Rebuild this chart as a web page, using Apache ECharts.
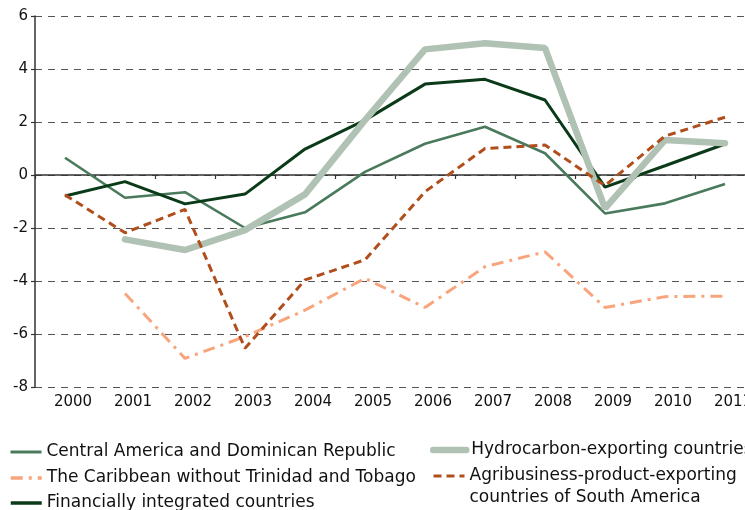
<!DOCTYPE html>
<html><head><meta charset="utf-8">
<script src="https://cdn.jsdelivr.net/npm/echarts@6/dist/echarts.min.js"></script>
<style>html,body{margin:0;padding:0;background:#fff}#c{width:745px;height:510px}</style>
</head><body><div id="c"></div>
<script>
const years = ['2000','2001','2002','2003','2004','2005','2006','2007','2008','2009','2010','2011'];
const centralAmerica = [0.65,-0.86,-0.65,-2.0,-1.41,0.12,1.18,1.82,0.82,-1.45,-1.07,-0.34];
const caribbean = [null,-4.47,-6.92,-6.1,-5.1,-3.9,-5.0,-3.46,-2.9,-5.0,-4.59,-4.57];
const financial = [-0.79,-0.25,-1.09,-0.72,0.98,2.07,3.43,3.61,2.83,-0.46,0.35,1.17];
const hydrocarbon = [null,-2.43,-2.83,-2.08,-0.73,2.07,4.74,4.97,4.79,-1.26,1.32,1.2];
const agribusiness = [-0.75,-2.18,-1.3,-6.54,-3.96,-3.2,-0.63,1.0,1.13,-0.4,1.47,2.18];
const yTicks = {min:-8, max:6, interval:2};
const names = ['Central America and Dominican Republic','The Caribbean without Trinidad and Tobago','Financially integrated countries','Hydrocarbon-exporting countries','Agribusiness-product-exporting countries of South America'];

const FONT = 'DejaVu Sans';
const chart = echarts.init(document.getElementById('c'), null, {renderer:'canvas'});
const legendBase = {orient:'horizontal', padding:0, itemHeight:14, itemWidth:31,
  itemStyle:{opacity:0},
  textStyle:{fontFamily:FONT, fontSize:17, color:'#111', lineHeight:22}};
function lg(extra){ return Object.assign({}, legendBase, extra); }
chart.setOption({
  animation:false,
  backgroundColor:'#fff',
  grid:{left:35, width:720, top:16, height:371, containLabel:false, outerBoundsMode:'none'},
  xAxis:[
    {type:'category', data:years, position:'bottom', boundaryGap:true,
     axisLine:{show:false, onZero:false}, axisTick:{show:false},
     axisLabel:{fontFamily:FONT, fontSize:15, color:'#111', margin:8, interval:0, padding:[0,0,0,16]},
     splitLine:{show:false}},
    {type:'category', data:years, position:'bottom', boundaryGap:true,
     axisLine:{show:true, onZero:true, lineStyle:{color:'#333', width:1.5}},
     axisTick:{show:true, inside:false, length:4, lineStyle:{color:'#333', width:1.2}},
     axisLabel:{show:false}, splitLine:{show:false}}
  ],
  yAxis:{type:'value', min:yTicks.min, max:yTicks.max, interval:yTicks.interval,
    axisLine:{show:true, onZero:false, lineStyle:{color:'#333', width:1.5}},
    axisTick:{show:true, length:4, lineStyle:{color:'#333', width:1.2}},
    axisLabel:{fontFamily:FONT, fontSize:15, color:'#111', margin:7},
    splitLine:{show:true, lineStyle:{color:'#555', type:[7,6], width:1.2}}},
  legend:[
    lg({data:[names[0]], left:9, top:441, lineStyle:{width:3}}),
    lg({data:[names[1]], left:9, top:467, lineStyle:{width:3.5}}),
    lg({data:[names[2]], left:9, top:492, lineStyle:{width:3.5}}),
    lg({data:[names[3]], left:430, top:439, itemWidth:33, lineStyle:{width:6.5, cap:'round'}}),
    lg({data:[names[4]], left:432, top:443, lineStyle:{width:3},
      formatter:function(){return '\nAgribusiness-product-exporting\ncountries of South America';}})
  ],
  series:[
    {name:names[0], type:'line', data:centralAmerica, symbol:'none', xAxisIndex:0,
     lineStyle:{color:'#4a7a5c', width:2.6}, itemStyle:{color:'#4a7a5c'}},
    {name:names[1], type:'line', data:caribbean, symbol:'none', xAxisIndex:0,
     lineStyle:{color:'#f8a57e', width:3, type:[12,6,3,6]}, itemStyle:{color:'#f8a57e'}},
    {name:names[2], type:'line', data:financial, symbol:'none', xAxisIndex:0,
     lineStyle:{color:'#0b3a18', width:3}, itemStyle:{color:'#0b3a18'}},
    {name:names[3], type:'line', data:hydrocarbon, symbol:'none', xAxisIndex:0,
     lineStyle:{color:'#b0c2b3', width:6.5, cap:'round'}, itemStyle:{color:'#b0c2b3'}},
    {name:names[4], type:'line', data:agribusiness, symbol:'none', xAxisIndex:0,
     lineStyle:{color:'#b04e1c', width:3, type:[8,5]}, itemStyle:{color:'#b04e1c'}}
  ]
});
</script></body></html>
